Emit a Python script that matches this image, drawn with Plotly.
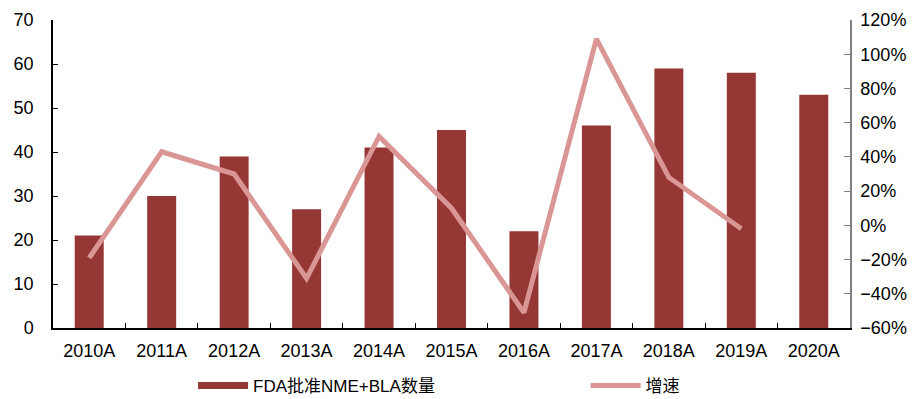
import plotly.graph_objects as go

years = ["2010A", "2011A", "2012A", "2013A", "2014A", "2015A",
         "2016A", "2017A", "2018A", "2019A", "2020A"]
approvals = [21, 30, 39, 27, 41, 45, 22, 46, 59, 58, 53]
growth_years = years[:10]
growth = [-0.19, 0.43, 0.30, -0.31, 0.52, 0.10, -0.51, 1.09, 0.28, -0.02]

bar_name = "FDA批准NME+BLA数量"
line_name = "增速"
bar_color = "#953735"
line_color = "#D99694"

fig = go.Figure()

fig.add_trace(go.Bar(
    x=years, y=approvals, name=bar_name,
    marker=dict(color=bar_color, line=dict(width=0)),
    showlegend=False, yaxis="y",
))
# legend proxy for the bars, drawn as a thick swatch
fig.add_trace(go.Scatter(
    x=[None], y=[None], mode="lines", name=bar_name,
    line=dict(color=bar_color, width=7), legend="legend", yaxis="y",
))
fig.add_trace(go.Scatter(
    x=growth_years, y=growth, mode="lines", name=line_name,
    line=dict(color=line_color, width=5), yaxis="y2", legend="legend2",
))

tick_font = dict(family="Liberation Sans, Arial, sans-serif", size=18, color="#000000")
legend_font = dict(family="Liberation Sans, Noto Sans CJK SC, sans-serif", size=17, color="#000000")

fig.update_layout(
    width=915, height=399,
    margin=dict(l=53, r=65, t=20, b=71, autoexpand=False),
    paper_bgcolor="white", plot_bgcolor="white",
    bargap=0.6,
    xaxis=dict(
        type="category", range=[-0.5, 10.5],
        showline=True, linecolor="#000000", linewidth=1.5,
        ticks="inside", tickson="boundaries", ticklen=5, tickcolor="#000000",
        showgrid=False, tickfont=tick_font, ticklabelstandoff=6,
    ),
    yaxis=dict(
        range=[0, 70], dtick=10,
        showline=True, linecolor="#000000", linewidth=1.5,
        ticks="inside", ticklen=5, tickcolor="#000000",
        showgrid=False, zeroline=False, tickfont=tick_font,
        ticklabelstandoff=14,
    ),
    yaxis2=dict(
        overlaying="y", side="right",
        range=[-0.6, 1.2], dtick=0.2, tickformat=".0%",
        showline=True, linecolor="#7f7f7f", linewidth=1.5,
        ticks="inside", ticklen=6, tickcolor="#7f7f7f",
        showgrid=False, zeroline=False, tickfont=tick_font,
        ticklabelstandoff=5,
    ),
    legend=dict(
        orientation="h", xref="container", yref="container",
        x=0.211, y=0.033, xanchor="left", yanchor="middle",
        font=legend_font, bgcolor="rgba(0,0,0,0)", itemwidth=50,
    ),
    legend2=dict(
        orientation="h", xref="container", yref="container",
        x=0.64, y=0.033, xanchor="left", yanchor="middle",
        font=legend_font, bgcolor="rgba(0,0,0,0)", itemwidth=50,
    ),
)

fig.write_html("out.html")
